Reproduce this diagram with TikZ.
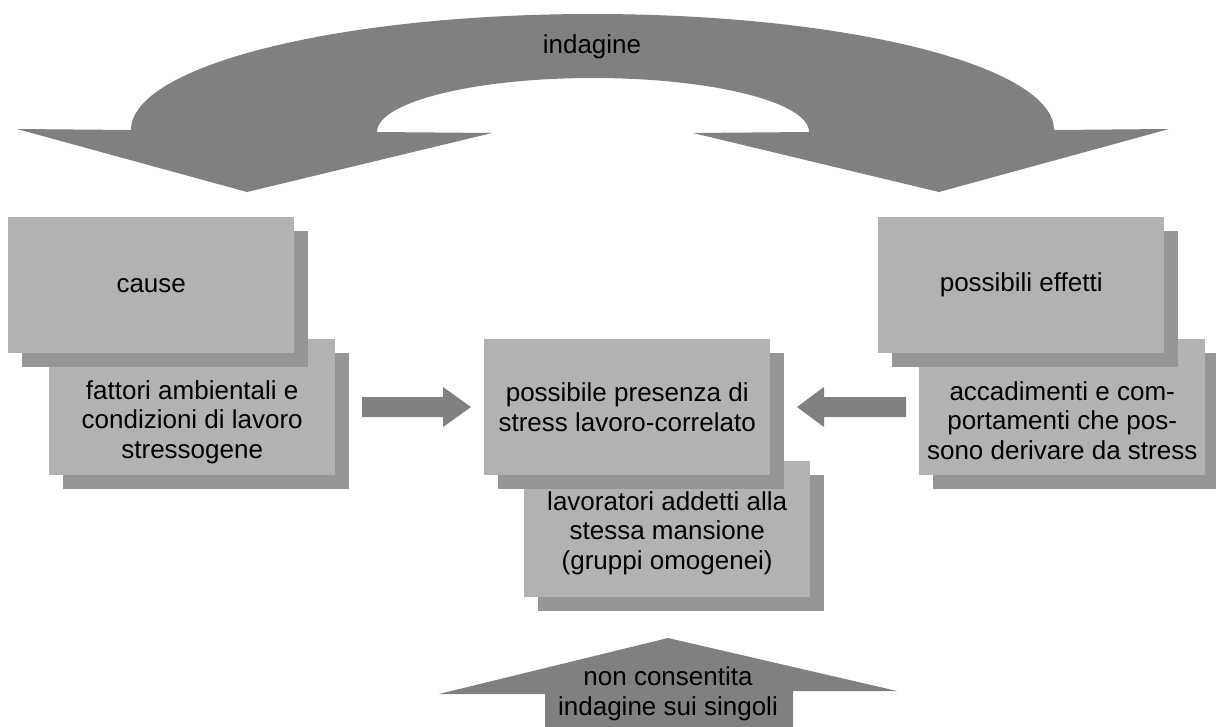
\documentclass[tikz,border=0pt]{standalone}
\usepackage{fontspec}
\setmainfont{Liberation Sans}
\usetikzlibrary{shadows}
\definecolor{arrowgray}{RGB}{128,128,128}
\definecolor{boxgray}{RGB}{178,178,178}
\definecolor{shadowgray}{RGB}{150,150,150}
\begin{document}
\begin{tikzpicture}[x=1pt,y=-1pt,
  txtfont/.style={font=\fontsize{26}{29.5}\selectfont},
  panel/.style={txtfont, fill=boxgray, draw=none, inner sep=0pt, anchor=north west,
     align=center, minimum width=286pt, minimum height=136pt,
     drop shadow={shadow xshift=14pt, shadow yshift=-14pt, fill=shadowgray, opacity=1}},
  lbl/.style={txtfont, align=center, inner sep=0pt},
  blockarrow/.style={fill=arrowgray, draw=none}]
\useasboundingbox (0,0) rectangle (1216,726);

% big curved arrow
\fill[blockarrow] (17,129) -- (247,192) -- (492,133) -- (377,132)
  .. controls (377,102.2) and (473.7,78) .. (593,78)
  .. controls (712.3,78) and (809,102.2) .. (809,132)
  -- (693,133) -- (939,192) -- (1169,129) -- (1054,130)
  .. controls (1054,65.9) and (847.4,14) .. (592.5,14)
  .. controls (337.6,14) and (131,65.9) .. (131,130) -- cycle;
\node[lbl] (tind) at (592,47) {indagine};

% left group
\node[panel] (L2) at (49,339) {};
\node[lbl] (L2t) at ([yshift=-15pt]L2.center) {fattori ambientali e\\condizioni di lavoro\\stressogene};
\node[panel] (L1) at (8,217) {cause};

% right group
\node[panel] (R2) at (919,339) {};
\node[lbl] (R2t) at ([yshift=-13.5pt]R2.center) {accadimenti e com-\\portamenti che pos-\\sono derivare da stress};
\node[panel] (R1) at (878,217) {possibili effetti};

% center group
\node[panel] (C2) at (524,461) {};
\node[lbl] (C2t) at ([yshift=-4pt]C2.center) {lavoratori addetti alla\\stessa mansione\\(gruppi omogenei)};
\node[panel] (C1) at (484,339) {possibile presenza di\\stress lavoro-correlato};

% small arrows
\fill[blockarrow] (362,397) -- (443,397) -- (443,387) -- (471,407) -- (443,427) -- (443,417) -- (362,417) -- cycle;
\fill[blockarrow] (906,397) -- (824,397) -- (824,387) -- (797,407) -- (824,427) -- (824,417) -- (906,417) -- cycle;

% bottom arrow
\fill[blockarrow] (545,730) -- (545,694) -- (439,694) -- (668,638) -- (897,691) -- (793,691) -- (793,730) -- cycle;
\node[lbl] (tbot) at (668,694) {non consentita\\indagine sui singoli};
\end{tikzpicture}
\end{document}
